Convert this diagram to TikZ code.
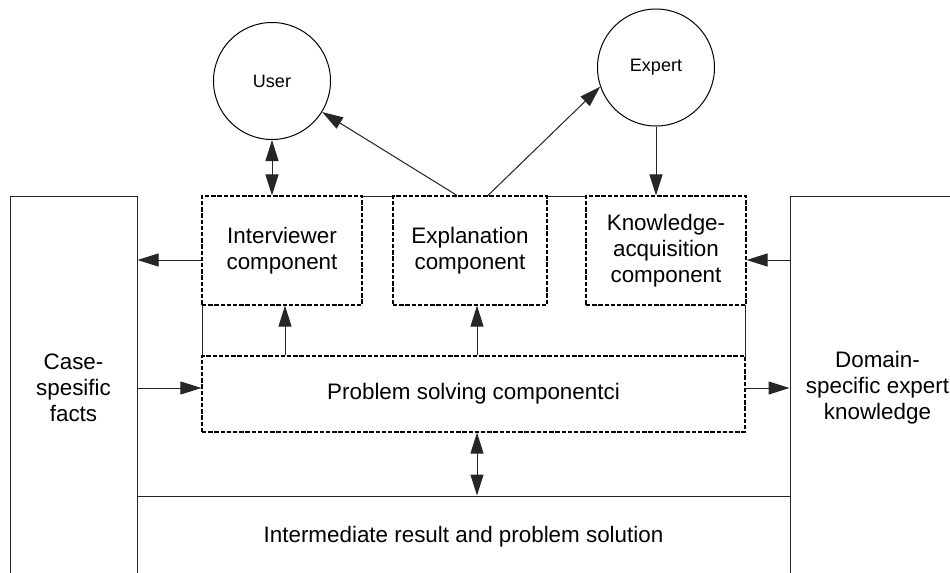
\documentclass[tikz,border=0pt]{standalone}
\usepackage{fontspec}
\setmainfont{Liberation Sans}
\usetikzlibrary{arrows.meta}

\begin{document}
\begin{tikzpicture}[x=0.5pt,y=-0.5pt,line width=0.5pt,line join=miter,>={Triangle[length=10.5pt,width=6.5pt]}]
\tikzset{
    store/.style=    {draw=black!85, fill=white, align=center, inner sep=0pt, font=\fontsize{11.2}{13}\selectfont},
    compbox/.style=  {store, draw=black, line width=0.6pt, dash pattern=on 2.2pt off 0.9pt},
    actor/.style=    {draw, circle, minimum size=58.5pt, inner sep=0pt, font=\fontsize{9}{11}\selectfont},
    link/.style=     {draw=black!85, fill=black}
}
\useasboundingbox (0,0) rectangle (950,573);
\clip (0,0) rectangle (950,573);

%% frame round the components
\draw[black!85] (202,196) rectangle (745,356);

%% actors
\node[actor] (user) at (272,81) {User};
\node[actor] (expert) at (656,67.5) {Expert};

%% stores
\node[store, minimum width=63.5pt, minimum height=192pt] (casefacts) at (73.5,388) {Case-\\spesific\\facts};
\node[store, minimum width=87.5pt, minimum height=192pt] (domain) at (877.5,388) {Domain-\\specific expert\\knowledge};
\node[store, minimum width=326.5pt, minimum height=41pt] (result) at (463.5,537) {Intermediate result and problem solution};

%% components
\node[compbox, minimum width=80pt, minimum height=54.5pt] (interviewer) at (282,250.5) {Interviewer\\component};
\node[compbox, minimum width=77pt, minimum height=54.5pt] (explanation) at (470,250.5) {Explanation\\component};
\node[compbox, minimum width=80pt, minimum height=54.5pt] (knowledge) at (666,250.5) {Knowledge-\\acquisition\\component};
\node[compbox, minimum width=271.5pt, minimum height=38pt] (problem) at (473.5,394) {Problem solving componentci};

%% connectors
\draw[<->, link] (user.south) -- (user.south |- interviewer.north);
\draw[->, link] ([xshift=-6.5pt]explanation.north) -- (user);
\draw[->, link] ([xshift=9pt]explanation.north) -- (expert.199);
\draw[->, link] (expert.south) -- (expert.south |- knowledge.north);

\draw[->, link] ([yshift=-4.75pt]interviewer.west) -- ([yshift=-4.75pt]interviewer.west -| casefacts.east);
\draw[->, link] ([yshift=-4.75pt]knowledge.east -| domain.west) -- ([yshift=-4.75pt]knowledge.east);

\draw[->, link] ([yshift=3pt]problem.west -| casefacts.east) -- ([yshift=3pt]problem.west);
\draw[->, link] ([yshift=3pt]problem.east) -- ([yshift=3pt]problem.east -| domain.west);

\draw[->, link] ([xshift=1.5pt]interviewer.south |- problem.north) -- ([xshift=1.5pt]interviewer.south);
\draw[->, link] ([xshift=3.5pt]explanation.south |- problem.north) -- ([xshift=3.5pt]explanation.south);
\draw[<->, link] ([xshift=1.75pt]problem.south) -- ([xshift=1.75pt]problem.south |- result.north);

\end{tikzpicture}
\end{document}
